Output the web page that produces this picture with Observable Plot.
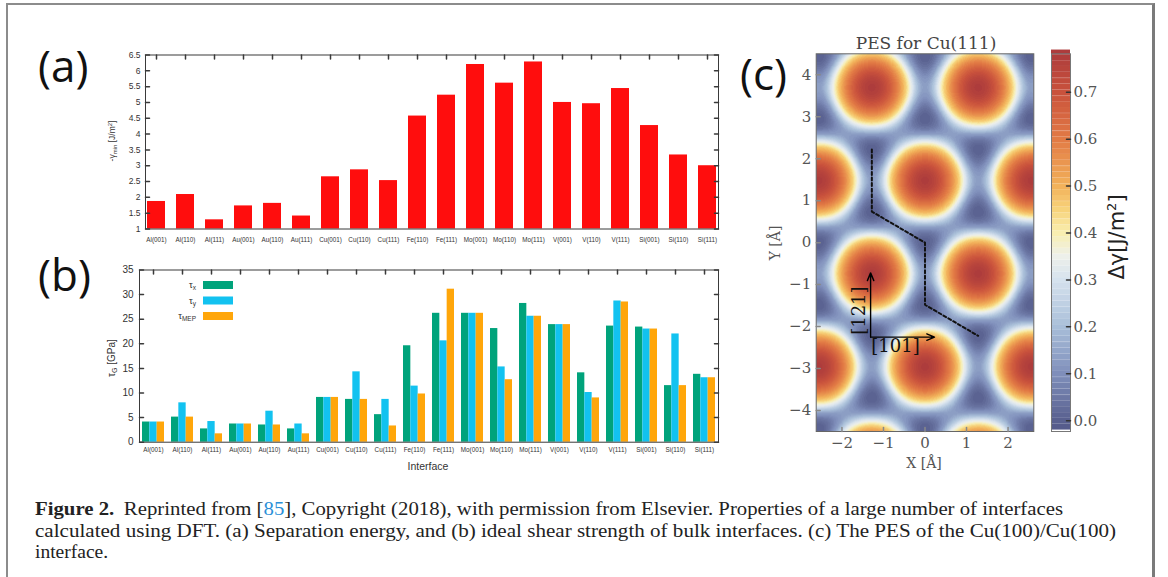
<!DOCTYPE html>
<html><head><meta charset="utf-8">
<script src="https://cdn.jsdelivr.net/npm/d3@7"></script>
<script src="https://cdn.jsdelivr.net/npm/@observablehq/plot@0.6"></script>
<style>
html,body{margin:0;padding:0;background:#fff;}
#page{position:relative;width:1168px;height:577px;overflow:hidden;background:#fff;}
#page > svg{position:absolute;}
#frame{position:absolute;left:6px;top:3px;width:1149px;height:620px;border-left:2px solid #8c8c8c;border-top:2px solid #8c8c8c;border-right:3px solid #7a7a7a;box-sizing:border-box;}
</style></head><body><div id="page"><div id="frame"></div></div>
<script>
// ---------------- DATA ----------------
const interfaces = ["Al(001)","Al(110)","Al(111)","Au(001)","Au(110)","Au(111)","Cu(001)","Cu(110)","Cu(111)","Fe(110)","Fe(111)","Mo(001)","Mo(110)","Mo(111)","V(001)","V(110)","V(111)","Si(001)","Si(110)","Si(111)"];
const sepEnergy = [1.87,2.09,1.29,1.73,1.81,1.41,2.65,2.87,2.53,4.57,5.23,6.20,5.61,6.28,5.00,4.96,5.44,4.27,3.34,3.00];
const tauX   = [4.1,5.1,2.7,3.7,3.5,2.7,9.1,8.7,5.6,19.6,26.2,26.2,23.1,28.2,23.9,14.1,23.6,23.4,11.5,13.8];
const tauY   = [4.1,8.0,4.2,3.7,6.3,3.7,9.1,14.3,8.7,11.4,20.6,26.2,15.3,25.6,23.9,10.1,28.7,23.0,22.0,13.1];
const tauMEP = [4.1,5.1,1.7,3.7,3.5,1.7,9.1,8.7,3.3,9.8,31.1,26.2,12.7,25.6,23.9,9.0,28.5,23.0,11.5,13.1];
const seriesNames = ["τx","τy","τMEP"];
const yTicksA = [1,1.5,2,2.5,3,3.5,4,4.5,5,5.5,6,6.5];
const yTicksB = [0,5,10,15,20,25,30,35];

// PES (panel c): top-site maxima read from the map (hexagonal lattice), and the
// value read from the map as a function of the lattice harmonic f (3 = top site, -1 = bridge, -1.5 = hollow)
const peakX = [-1.28,1.28,-2.56,0,2.56,-1.28,1.28,-2.56,0,2.56];
const peakY = [3.70,3.70,1.48,1.48,1.48,-0.74,-0.74,-2.96,-2.96,-2.96];
const harmF  = [-1.5,-1.3,-1.1,-1.0,-0.9,-0.5,0.13,0.9,1.9,2.5,3.0];
const harmV  = [0.0,0.05,0.11,0.13,0.17,0.31,0.45,0.56,0.67,0.73,0.78];
const mepX = [-1.28,-1.28,0,0,1.28];
const mepY = [2.22,0.74,0,-1.48,-2.22];
const arrowX1 = [-1.31,-1.31], arrowY1 = [-2.25,-2.25], arrowX2 = [-1.31,0.23], arrowY2 = [-0.72,-2.25];
const dirLabels = ["[121]","[101]"], dirX = [-1.59,-0.71], dirY = [-1.62,-2.48], dirRot = [-90,0];
const xTicksC = [-2,-1,0,1,2];
const yTicksC = [-4,-3,-2,-1,0,1,2,3,4];
const cbTicks = [0,0.1,0.2,0.3,0.4,0.5,0.6,0.7];
const colorStops = [-0.023,0.0,0.1,0.2,0.3,0.35,0.4,0.45,0.5,0.6,0.7,0.782];
const colorRange = ["#545a8a","#59608f","#7f8fbb","#a9bfd9","#d6e2ee","#eef0ea","#f8eeb0","#f7d27a","#f2b15a","#e27a45","#c9523c","#ad3c3c"];

// ---------------- HELPERS ----------------
const page = document.getElementById("page");
function place(svg, left, top){ svg.style.left = left+"px"; svg.style.top = top+"px"; page.appendChild(svg); return svg; }
const tickShape = {draw(ctx, l){ ctx.moveTo(0,0); ctx.lineTo(0,-l); }};
const minus = d => (d < 0 ? "\u2212" + Math.abs(d) : String(d));
const sansA = "'Liberation Sans', Arial, Helvetica, sans-serif";

// ---------------- PANEL (a) ----------------
const dataA = interfaces.map((k,i)=>({k, v: sepEnergy[i]}));
const plotA = Plot.plot({
  width: 640, height: 215, marginLeft: 55, marginRight: 12, marginTop: 14.5, marginBottom: 26.5,
  style: {fontFamily: sansA, color: "#333", background: "transparent", overflow: "visible"},
  x: {type: "band", domain: interfaces, paddingInner: 0.37, paddingOuter: 0},
  y: {domain: [1, 6.5]},
  marks: [
    Plot.barY(dataA, {x: "k", y1: 1, y2: "v", fill: "#ff0d0d"}),
    Plot.frame({stroke: "#3a3a3a"}),
    Plot.vector(yTicksA, {y: d=>d, frameAnchor: "left", rotate: 90, length: 4, anchor: "start", shape: tickShape, stroke: "#3a3a3a"}),
    Plot.vector(yTicksA, {y: d=>d, frameAnchor: "right", rotate: 270, length: 4, anchor: "start", shape: tickShape, stroke: "#3a3a3a"}),
    Plot.vector(interfaces, {x: d=>d, frameAnchor: "top", rotate: 180, length: 4, anchor: "start", shape: tickShape, stroke: "#3a3a3a"}),
    Plot.axisY({ticks: yTicksA, tickSize: 0, tickPadding: 5, fontSize: 8.5, label: null, tickFormat: d=>String(d)}),
    Plot.axisX({tickSize: 0, tickPadding: 9, fontSize: 6.3, label: null})
  ]
});
place(plotA, 90, 40);

// ---------------- PANEL (b) ----------------
const dataB = interfaces.map((k,i)=>({k, tx: tauX[i], ty: tauY[i], tm: tauMEP[i]}));
const optsB = {
  width: 640, height: 220, marginLeft: 49, marginRight: 12, marginTop: 14.5, marginBottom: 33.3,
  style: {fontFamily: sansA, color: "#333", background: "transparent", overflow: "visible"},
  x: {type: "band", domain: interfaces, paddingInner: 0.24, paddingOuter: 0},
  y: {domain: [0, 35]}
};
const probe = Plot.plot({...optsB, marks: [Plot.barY(dataB, {x: "k", y: "tx"})]});
const bw = probe.scale("x").bandwidth;
const seriesColors = ["#00a37b","#12c2f0","#ffa60a"];
const plotB = Plot.plot({...optsB, marks: [
  Plot.barY(dataB, {x: "k", y: "tx", fill: seriesColors[0], insetLeft: 0, insetRight: 2*bw/3}),
  Plot.barY(dataB, {x: "k", y: "ty", fill: seriesColors[1], insetLeft: bw/3, insetRight: bw/3}),
  Plot.barY(dataB, {x: "k", y: "tm", fill: seriesColors[2], insetLeft: 2*bw/3, insetRight: 0}),
  Plot.frame({stroke: "#3a3a3a"}),
  Plot.vector(yTicksB, {y: d=>d, frameAnchor: "left", rotate: 90, length: 4, anchor: "start", shape: tickShape, stroke: "#3a3a3a"}),
  Plot.vector(yTicksB, {y: d=>d, frameAnchor: "right", rotate: 270, length: 4, anchor: "start", shape: tickShape, stroke: "#3a3a3a"}),
  Plot.vector(interfaces, {x: d=>d, frameAnchor: "top", rotate: 180, length: 4, anchor: "start", shape: tickShape, stroke: "#3a3a3a"}),
  Plot.axisY({ticks: yTicksB, tickSize: 0, tickPadding: 6, fontSize: 10, label: null}),
  Plot.axisX({tickSize: 0, tickPadding: 5, fontSize: 6.3, label: null})
]});
place(plotB, 90, 255);

// ---------------- PANEL (c) ----------------
const gx = 218, gy = 378, X1 = -2.62, X2 = 2.62, Y1 = 4.5, Y2 = -4.5;
// lattice read from the peak positions
const latA = peakX[1] - peakX[0];            // nearest-neighbour spacing along x
const ox = peakX[3], oy = peakY[3];          // a top site used as origin
const k0 = 2 * Math.PI / latA;
const recip = [[k0, -k0 / Math.sqrt(3)], [0, 2 * k0 / Math.sqrt(3)], [-k0, -k0 / Math.sqrt(3)]];
const transfer = d3.scaleLinear().domain(harmF).range(harmV).clamp(true);
const grid = new Array(gx*gy);
for (let j = 0; j < gy; ++j) {
  const y = Y1 + (j + 0.5) * (Y2 - Y1) / gy - oy;
  for (let i = 0; i < gx; ++i) {
    const x = X1 + (i + 0.5) * (X2 - X1) / gx - ox;
    let f = 0;
    for (const [bx, by] of recip) f += Math.cos(bx * x + by * y);
    grid[j*gx + i] = transfer(f);
  }
}
const step = 0.0125;
const levels = d3.range(-0.02, 0.785, step);
const colorOpts = {type: "linear", domain: colorStops, range: colorRange, clamp: true};
const mep = mepX.map((x,i)=>({x, y: mepY[i]}));
const arrows = arrowX1.map((x,i)=>({x1: x, y1: arrowY1[i], x2: arrowX2[i], y2: arrowY2[i]}));
const dirs = dirLabels.map((t,i)=>({t, x: dirX[i], y: dirY[i], r: dirRot[i]}));
const serif = "'DejaVu Serif', serif";
const plotC = Plot.plot({
  width: 290, height: 450, marginLeft: 55.7, marginRight: 16.7, marginTop: 23.3, marginBottom: 49,
  style: {fontFamily: serif, color: "#555", background: "transparent", overflow: "visible"},
  x: {domain: [-2.62, 2.62]},
  y: {domain: [-4.5, 4.5]},
  color: colorOpts,
  marks: [
    Plot.raster(grid, {x1: X1, y1: Y1, x2: X2, y2: Y2, width: gx, height: gy, fill: d => Math.floor(d / step) * step + step / 2}),
    Plot.line(mep, {x: "x", y: "y", stroke: "#111", strokeWidth: 2, strokeDasharray: "3,2.6"}),
    Plot.arrow(arrows, {x1: "x1", y1: "y1", x2: "x2", y2: "y2", stroke: "#000", strokeWidth: 1.4, headLength: 9, headAngle: 45}),
    Plot.text(dirs.filter(d=>d.r === 0), {x: "x", y: "y", text: "t", fill: "#111", fontSize: 18}),
    Plot.text(dirs.filter(d=>d.r !== 0), {x: "x", y: "y", text: "t", fill: "#111", fontSize: 18, rotate: -90}),
    Plot.frame({stroke: "#666"}),
    Plot.vector(xTicksC, {x: d=>d, frameAnchor: "bottom", rotate: 0, length: 4, anchor: "start", shape: tickShape, stroke: "#888"}),
    Plot.vector(yTicksC, {y: d=>d, frameAnchor: "left", rotate: 90, length: 4, anchor: "start", shape: tickShape, stroke: "#888"}),
    Plot.axisX({ticks: xTicksC, tickFormat: minus, tickSize: 0, tickPadding: 6, fontSize: 15, label: null}),
    Plot.axisY({ticks: yTicksC, tickFormat: minus, tickSize: 0, tickPadding: 5, fontSize: 15, label: null})
  ]
});
place(plotC, 760, 30);

// colorbar
const cbBands = d3.pairs(levels.concat([0.79])).map(([a,b])=>({a, b}));
const plotCB = Plot.plot({
  width: 120, height: 450, marginLeft: 11, marginRight: 90, marginTop: 23.3, marginBottom: 49,
  style: {fontFamily: serif, color: "#555", background: "transparent", overflow: "visible"},
  y: {domain: [-0.023, 0.782]},
  color: colorOpts,
  marks: [
    Plot.rectY(cbBands, {y1: "a", y2: "b", fill: d => d.a + step / 2}),
    Plot.ruleY(levels.filter((d,i)=>i%3===0), {stroke: "#fff", strokeOpacity: 0.15, strokeWidth: 0.6}),
    Plot.frame({stroke: "#777"}),
    Plot.vector(cbTicks, {y: d=>d, frameAnchor: "right", rotate: 270, length: 4, anchor: "start", shape: tickShape, stroke: "#333"}),
    Plot.axisY({anchor: "right", ticks: cbTicks, tickFormat: d=>d.toFixed(1), tickSize: 0, tickPadding: 3, fontSize: 15, label: null})
  ]
});
place(plotCB, 1040, 30);

// ---------------- OVERLAY TEXT ----------------
const ov = d3.select(page).append("svg").attr("width", 1168).attr("height", 577).style("left","0px").style("top","0px").style("position","absolute");
const letterFont = "'Open Sans', 'DejaVu Sans', sans-serif";
[["(a)", 38, 82], ["(b)", 38, 291], ["(c)", 740, 90]].forEach(([t,x,y]) =>
  ov.append("text").attr("x", x).attr("y", y).attr("font-family", letterFont).attr("font-size", 44).attr("fill", "#111").text(t));

// y label (a)
const la = ov.append("text").attr("transform", "translate(115,141) rotate(-90)").attr("text-anchor","middle")
  .attr("font-family", sansA).attr("font-size", 8.5).attr("fill", "#333");
la.append("tspan").text("-γ");
la.append("tspan").attr("font-size", 6).attr("dy", 2).text("min");
la.append("tspan").attr("dy", -2).text(" [J/m");
la.append("tspan").attr("font-size", 6).attr("dy", -3).text("2");
la.append("tspan").attr("dy", 3).text("]");
// y label (b)
const lb = ov.append("text").attr("transform", "translate(115,358) rotate(-90)").attr("text-anchor","middle")
  .attr("font-family", sansA).attr("font-size", 10).attr("fill", "#333");
lb.append("tspan").text("τ");
lb.append("tspan").attr("font-size", 7).attr("dy", 2).text("G");
lb.append("tspan").attr("dy", -2).text(" [GPa]");
// x label (b)
ov.append("text").attr("x", 428).attr("y", 470).attr("text-anchor","middle").attr("font-family", sansA).attr("font-size", 10.5).attr("fill","#333").text("Interface");

// legend (b)
const legX = 203, legW = 30, legH = 8, legY = [281, 296.5, 312];
seriesNames.forEach((n, i) => {
  ov.append("rect").attr("x", legX).attr("y", legY[i]).attr("width", legW).attr("height", legH).attr("fill", seriesColors[i]);
  const t = ov.append("text").attr("x", legX - 7).attr("y", legY[i] + 7).attr("text-anchor","end").attr("font-family", sansA).attr("font-size", 9.5).attr("fill","#333");
  t.append("tspan").text("τ");
  t.append("tspan").attr("font-size", 6.5).attr("dy", 2).text(n.slice(1));
});

// panel (c) titles
ov.append("text").attr("x", 926).attr("y", 49).attr("text-anchor","middle").attr("font-family", serif).attr("font-size", 17).attr("fill","#444").text("PES for Cu(111)");
ov.append("text").attr("x", 924).attr("y", 468).attr("text-anchor","middle").attr("font-family", serif).attr("font-size", 14).attr("fill","#555").text("X [Å]");
ov.append("text").attr("transform","translate(780,243) rotate(-90)").attr("text-anchor","middle").attr("font-family", serif).attr("font-size", 14).attr("fill","#555").text("Y [Å]");
const cbl = ov.append("text").attr("transform","translate(1124,237) rotate(-90)").attr("text-anchor","middle").attr("font-family", "'DejaVu Sans', sans-serif").attr("font-size", 21).attr("fill","#222");
cbl.append("tspan").text("Δγ[J/m");
cbl.append("tspan").attr("font-size", 13).attr("dy", -8).text("2");
cbl.append("tspan").attr("dy", 8).text("]");

// caption
const capFont = "'Liberation Serif', 'Times New Roman', serif";
const c1 = ov.append("text").attr("x", 35).attr("y", 515).attr("font-family", capFont).attr("font-size", 19.5).attr("fill","#222").attr("textLength", 1028).attr("lengthAdjust","spacingAndGlyphs");
c1.append("tspan").attr("font-weight","bold").text("Figure 2.");
c1.append("tspan").attr("dx", 9).text("Reprinted from [");
c1.append("tspan").attr("fill", "#2a8fd8").text("85");
c1.append("tspan").text("], Copyright (2018), with permission from Elsevier. Properties of a large number of interfaces");
ov.append("text").attr("x", 35).attr("y", 537).attr("font-family", capFont).attr("font-size", 19.5).attr("fill","#222").attr("textLength", 1081).attr("lengthAdjust","spacingAndGlyphs")
  .text("calculated using DFT. (a) Separation energy, and (b) ideal shear strength of bulk interfaces. (c) The PES of the Cu(100)/Cu(100)");
ov.append("text").attr("x", 35).attr("y", 558).attr("font-family", capFont).attr("font-size", 19.5).attr("fill","#222").text("interface.");
</script></body></html>
